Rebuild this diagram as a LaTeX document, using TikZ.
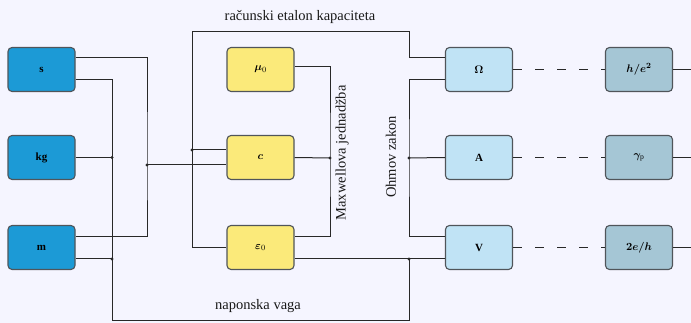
\documentclass[tikz,border=0pt]{standalone}
\usepackage{amsmath}
\usepackage{amssymb}
\usepackage{bm}
\usepackage{fontspec}
\setmainfont{Liberation Serif}
\usetikzlibrary{calc}
\definecolor{bluebox}{RGB}{28,154,214}
\definecolor{yelbox}{RGB}{251,234,122}
\definecolor{ltblue}{RGB}{192,227,245}
\definecolor{grayblue}{RGB}{165,198,213}
\definecolor{linec}{RGB}{40,40,40}
\definecolor{bordc}{RGB}{80,85,90}
\tikzset{
  x=1pt, y=-1pt,
  box/.style={draw=bordc, line width=1.1pt, rounded corners=4pt, minimum width=67pt, minimum height=44pt, inner sep=0pt, font=\fontsize{11}{13}\selectfont},
  sibox/.style={box, fill=bluebox},
  ybox/.style={box, fill=yelbox},
  lbbox/.style={box, fill=ltblue},
  gbox/.style={box, fill=grayblue},
  wire/.style={draw=linec, line width=1pt},
  dwire/.style={wire, dash pattern=on 9pt off 13pt},
  jdot/.style={circle, fill=linec, inner sep=0pt, minimum size=3.2pt},
  lbl/.style={font=\fontsize{14.5}{16}\selectfont, text=black!90},
}
\begin{document}
\begin{tikzpicture}
\useasboundingbox (0,0) rectangle (691,323);
\fill[white!96!blue] (0,0) rectangle (691,323);
% boxes
\node[sibox] (s)  at (41.5,69.5) {\textbf{s}};
\node[sibox] (kg) at (41.5,157.5) {\textbf{kg}};
\node[sibox] (m)  at (41.5,247.5) {\textbf{m}};
\node[ybox] (mu)  at (260.5,69.5) {$\bm{\mu}_0$};
\node[ybox] (c)   at (260.5,157.5) {$\bm{c}$};
\node[ybox] (eps) at (260.5,247.5) {$\bm{\varepsilon}_0$};
\node[lbbox] (Om) at (479,69.5) {$\bm{\Omega}$};
\node[lbbox] (A)  at (479,157.5) {\textbf{A}};
\node[lbbox] (V)  at (479,247.5) {\textbf{V}};
\node[gbox] (he)  at (639,69.5) {$\bm{h/e^2}$};
\node[gbox] (gp)  at (639,157.5) {$\bm{\gamma}_{\mathrm{p}}$};
\node[gbox] (ej)  at (639,247.5) {$\bm{2e/h}$};
% junction coordinates
\coordinate (jA) at (147,165);
\coordinate (jB) at (112,320);
\coordinate (jC) at (192,150);
\coordinate (jM) at (330,158);
\coordinate (jO) at (409,158);
\coordinate (jV) at (409,259);
\coordinate (edge) at (691,0);
% wires from s
\draw[wire] ([yshift=11.5pt]s.east) -| (jA) |- ([yshift=10.5pt]m.east);
\draw[wire] ([yshift=-10.5pt]s.east) -| (jB) -| (jV);
\draw[wire] (kg.east) -- (kg.east -| jB) node[jdot] (d1) {};
\draw[wire] ([yshift=-11.5pt]m.east) -- ([yshift=-11.5pt]m.east -| jB) node[jdot] (d2) {};
\draw[wire] (jA) -- ([yshift=-7.5pt]c.west);
\node[jdot] (d3) at (jA) {};
% capacity etalon loop
\draw[wire] (eps.west) -| (192,32) -| (409,58) -- ([yshift=11.5pt]Om.west);
\draw[wire] (jC) -- ([yshift=7.5pt]c.west);
\node[jdot] (d4) at (jC) {};
% Maxwell
\draw[wire] ([yshift=2.5pt]mu.east) -| (jM) |- ([yshift=10.5pt]eps.east);
\draw[wire] (c.east) -- (jM);
\node[jdot] (d5) at (jM) {};
% eps to V
\draw[wire] ([yshift=-11.5pt]eps.east) -- ([yshift=-11.5pt]V.west);
\node[jdot] (d6) at (jV) {};
% Ohm
\draw[wire] ([yshift=-10.5pt]Om.west) -| (jO) |- ([yshift=10.5pt]V.west);
\draw[wire] (A.west) -- (jO);
\node[jdot] (d7) at (jO) {};
% dashed
\draw[dwire] (Om.east) -- (he.west);
\draw[dwire] (A.east) -- (gp.west);
\draw[dwire] (V.east) -- (ej.west);
\draw[wire] (he.east) -- (he.east -| edge);
\draw[wire] (gp.east) -- (gp.east -| edge);
\draw[wire] (ej.east) -- (ej.east -| edge);
% labels
\node[lbl] (t1) at (300,17) {računski etalon kapaciteta};
\node[lbl] (t2) at (258,306) {naponska vaga};
\node[lbl, rotate=90] (t3) at (342,153) {Maxwellova jednadžba};
\node[lbl, rotate=90] (t4) at (391,157) {Ohmov zakon};
\end{tikzpicture}
\end{document}
